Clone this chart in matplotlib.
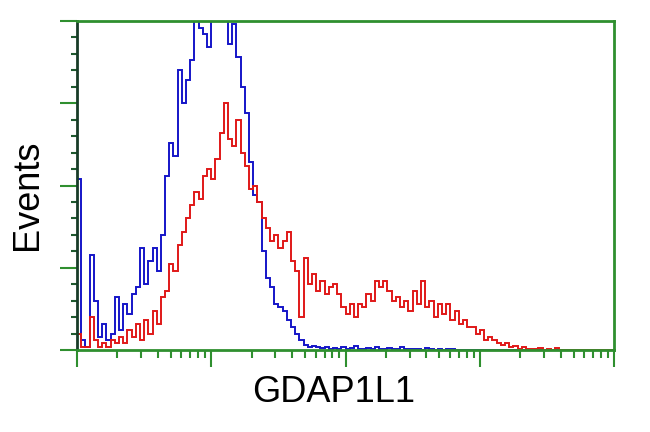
import numpy as np
import matplotlib.pyplot as plt

# 128 log channels over 4 decades, counts in % of full scale
blue = [52, 3, 1, 29, 15, 4, 8, 3, 5, 16,
        6, 14, 11, 17, 19, 31, 20, 27, 31, 24,
        35, 53, 63, 59, 85, 75, 82, 88, 105, 98,
        96, 92, 104, 110, 112, 100, 93, 99, 89, 80,
        72, 57, 47, 45, 30, 22, 19, 14, 13, 12,
        9, 7, 5, 3, 1.5, 1, 1.2, 0.8, 0.5, 1,
        0.3, 0.6, 0.4, 0.8, 0.3, 0.5, 1.2, 0.3, 0.4, 0.6,
        0.2, 0.9, 0.3, 0.2, 0.5, 0.2, 0.3, 1.0, 0.2, 0.3,
        0.2, 0.4, 0.1, 0.6, 0.2, 0.1, 0.3, 0.1, 0.2, 0.4,
        0, 0, 0, 0, 0, 0, 0, 0, 0, 0,
        0, 0, 0, 0, 0, 0, 0, 0, 0, 0,
        0, 0, 0, 0, 0, 0, 0, 0, 0, 0,
        0, 0, 0, 0, 0, 0, 0, 0]

red = [5, 1, 1, 10, 3, 1, 2, 1, 3, 2,
       4, 2, 6, 4, 8, 3, 9, 5, 12, 8,
       16, 18, 26, 24, 32, 36, 40, 44, 48, 46,
       53, 55, 52, 58, 66, 75, 64, 62, 70, 60,
       56, 49, 50, 45, 40, 37, 33, 35, 31, 33,
       36, 27, 24, 10, 28, 20, 23, 18, 21, 17,
       19, 20, 17, 13, 11, 14, 10, 14, 13, 17,
       15, 21, 19, 21, 18, 15, 16, 13, 15, 12,
       18, 14, 21, 13, 15, 10, 14, 11, 14, 9,
       12, 8, 9, 7, 7, 5, 6, 3, 4, 3,
       2, 1.5, 2, 1, 1.2, 0.3, 0.8, 0.2, 0.3, 0.2,
       0.6, 0.1, 0.2, 0.1, 0.5, 0, 0, 0, 0, 0,
       0, 0, 0, 0, 0, 0, 0, 0]

edges = 10 ** (np.arange(len(blue) + 1) * 4 / len(blue))

plt.rcParams['font.family'] = ['Liberation Sans', 'DejaVu Sans']

fig = plt.figure(figsize=(6.5, 4.32), dpi=100)
ax = fig.add_axes([77 / 650, 82 / 432, 537 / 650, 329 / 432])

ax.stairs(blue, edges, color='#1515c8', linewidth=1.4)
ax.stairs(red, edges, color='#e01818', linewidth=1.4)

ax.set_xscale('log')
ax.set_xlim(1, 1e4)
ax.set_ylim(0, 100)

green = '#2f8f2f'
for s in ['top', 'right', 'bottom']:
    ax.spines[s].set_color(green)
    ax.spines[s].set_linewidth(2)
ax.spines['left'].set_color('#183c28')
ax.spines['left'].set_linewidth(2)

ax.set_yticks([0, 25, 50, 75, 100])
ax.set_yticks(np.arange(0, 101, 5), minor=True)
ax.tick_params(axis='y', which='major', length=12, width=1.5, color=green, labelleft=False)
ax.tick_params(axis='y', which='minor', length=4, width=1.5, color='#1f5a2f')
ax.tick_params(axis='x', which='major', length=12, width=1.5, color=green, labelbottom=False)
ax.tick_params(axis='x', which='minor', length=6, width=1.5, color=green)

# axis titles
fig.text(334 / 650, 1 - 393 / 432, 'GDAP1L1', fontsize=26, ha='center', va='center')
fig.text(27 / 650, 1 - 195 / 432, 'Events', fontsize=26, rotation=90,
         ha='center', va='center')

fig.savefig('out.png', dpi=100)
